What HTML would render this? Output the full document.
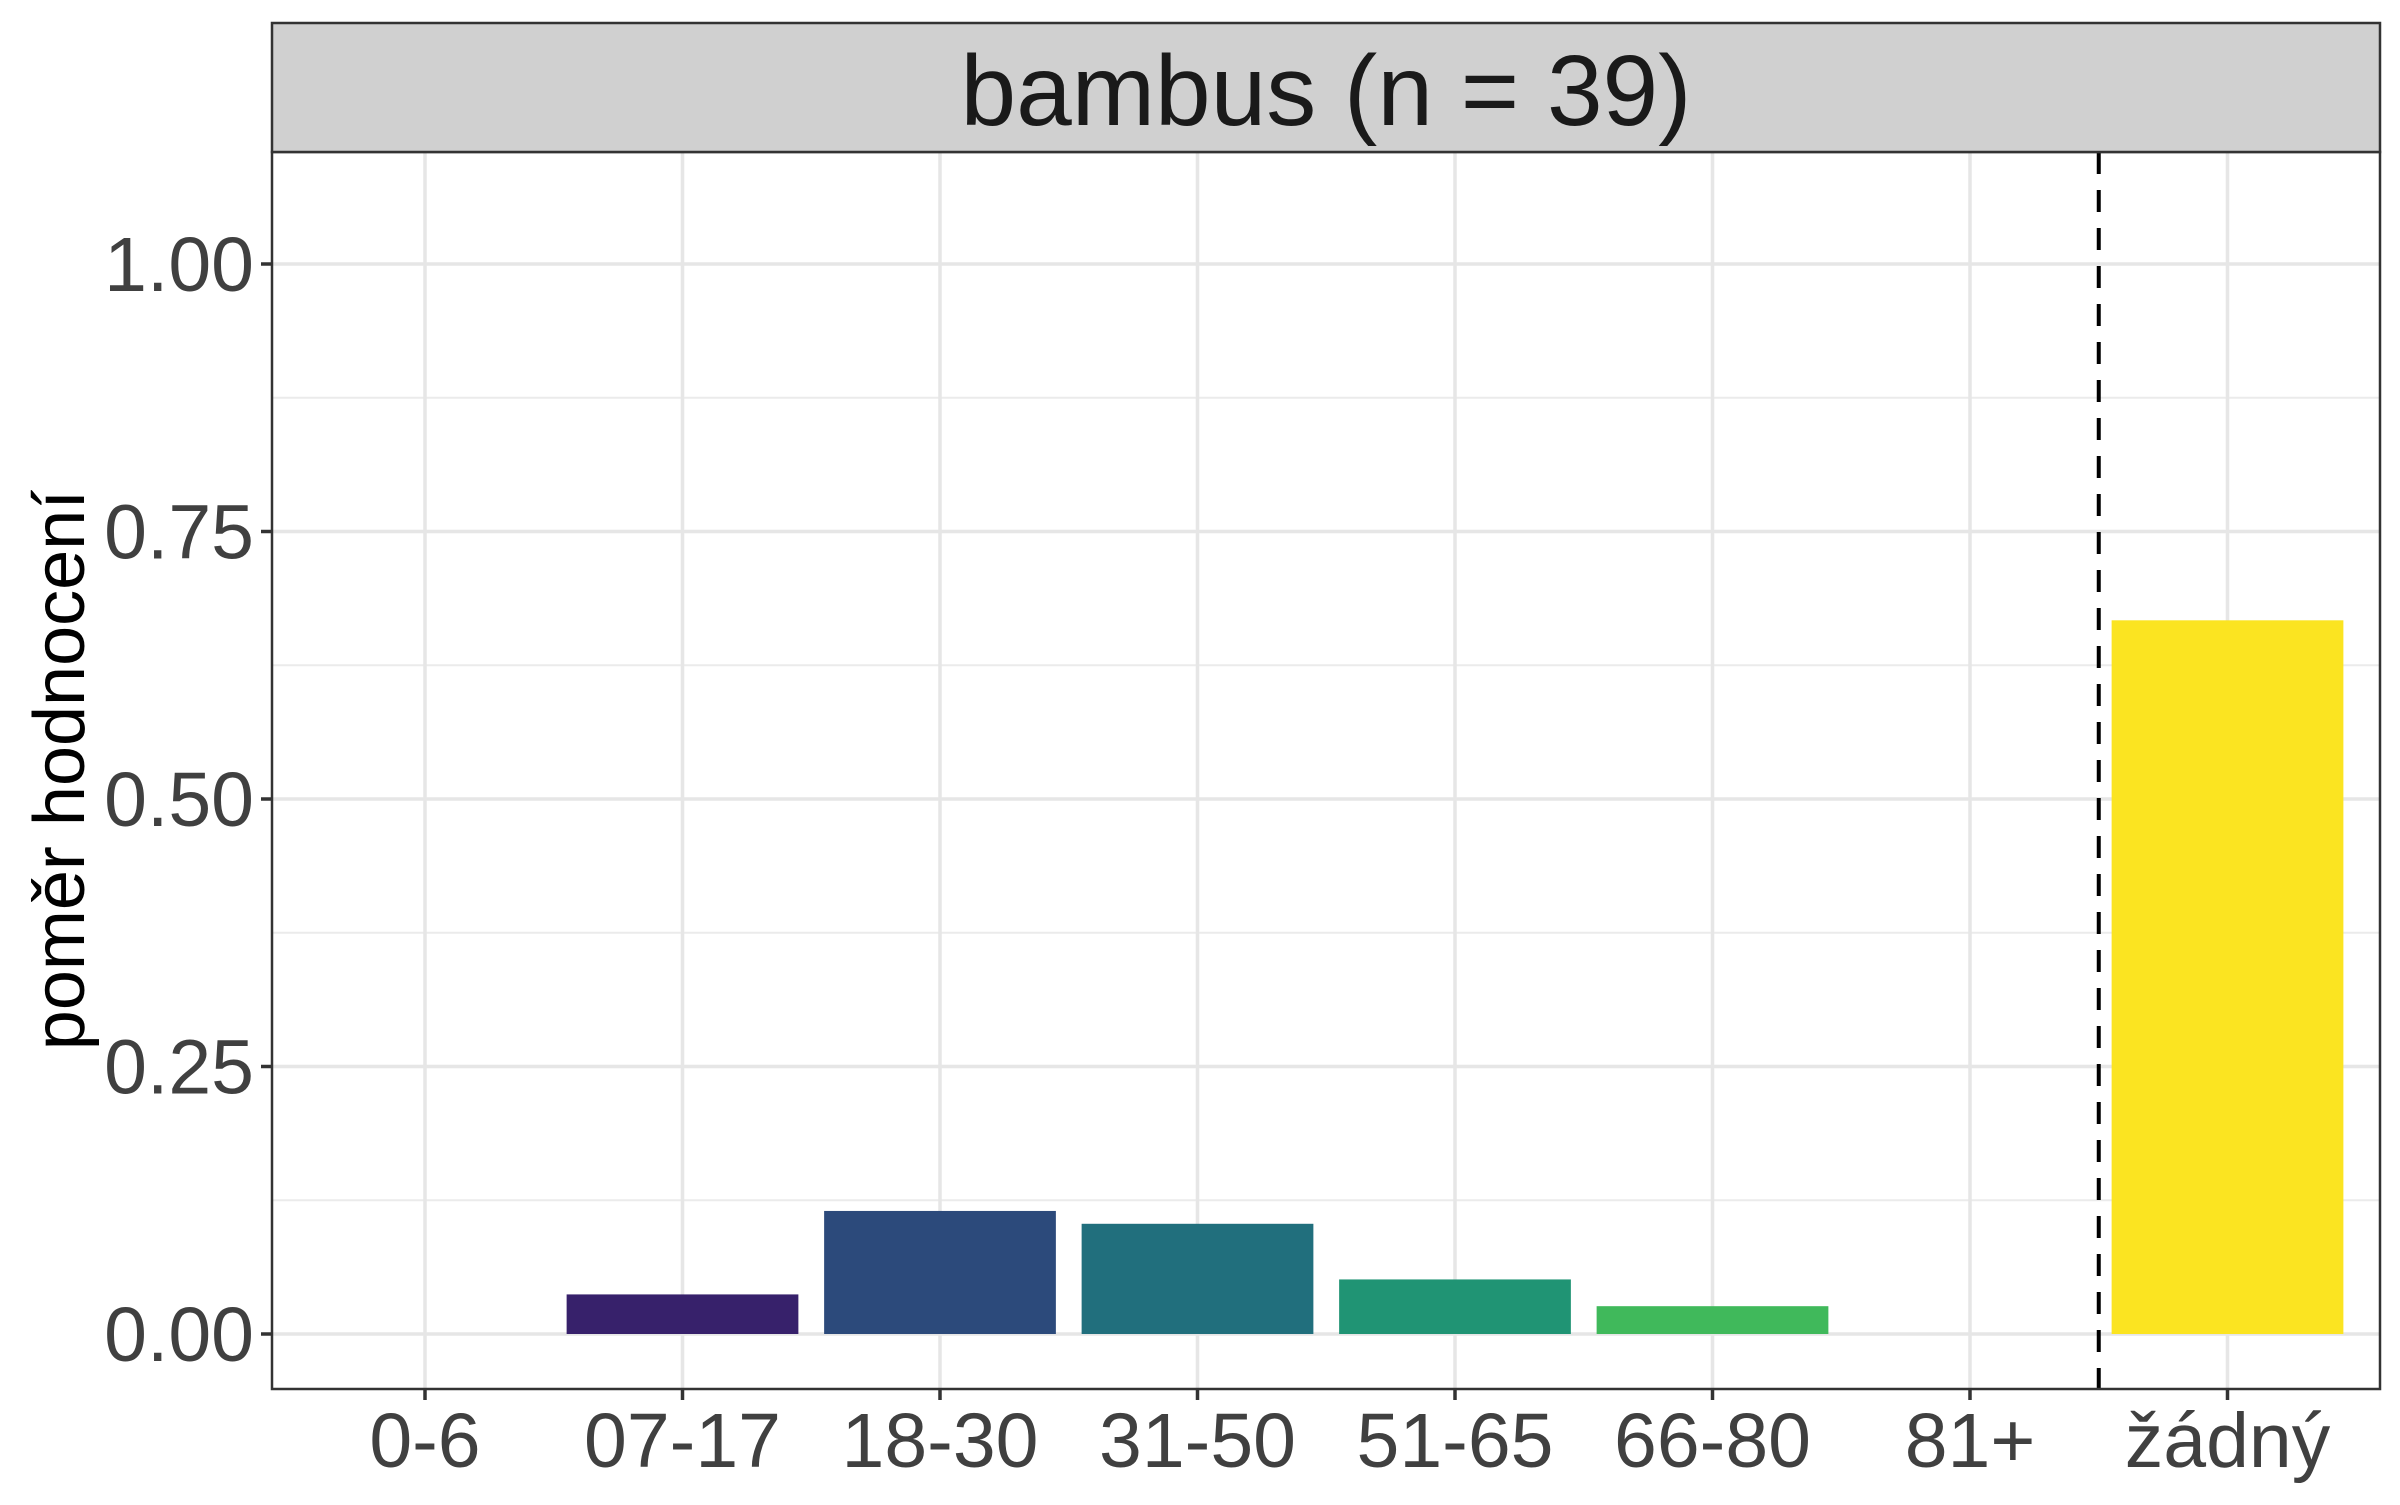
<!DOCTYPE html>
<html><head><meta charset="utf-8"><style>
html,body{margin:0;padding:0;background:#fff;}
svg text{font-family:"Liberation Sans",sans-serif;}
</style></head><body>
<svg id="chart" width="2400" height="1500" xmlns="http://www.w3.org/2000/svg">
<g id="grid"></g>
<g id="bars"></g>
<g id="axes"></g>
<rect x="272" y="152" width="2108" height="1237" fill="none" stroke="#333" stroke-width="2.5"/>
<rect x="272" y="23" width="2108" height="129" fill="#d0d0d0" stroke="#333" stroke-width="2.5"/>
<text x="1326" y="125" font-size="100" text-anchor="middle" fill="#1a1a1a">bambus (n = 39)</text>
<text transform="translate(84,770) rotate(-90)" font-size="72" text-anchor="middle" fill="#000">poměr hodnocení</text>
</svg>
<script>
const categories = ["0-6","07-17","18-30","31-50","51-65","66-80","81+","žádný"];
const values = [0, 0.037, 0.115, 0.103, 0.051, 0.026, 0, 0.667];
const colors = ["#440154","#37216b","#2c4a7b","#216f7d","#209474","#40b95b","#9fda3a","#fbe421"];
const yTicks = [0, 0.25, 0.5, 0.75, 1.0];
const yTickLabels = ["0.00","0.25","0.50","0.75","1.00"];
const dividerAt = 6.5;

const NS = "http://www.w3.org/2000/svg";
const x0 = 425, step = 257.5;
const xScale = i => x0 + i * step;
const y0 = 1334, yUnit = 1070;
const yScale = v => y0 - v * yUnit;
const L = 272, R = 2380, T = 152, B = 1389;
function mk(tag, attrs, parent){ const e=document.createElementNS(NS,tag); for(const k in attrs) e.setAttribute(k,attrs[k]); parent.appendChild(e); return e; }
const grid=document.getElementById('grid'), bars=document.getElementById('bars'), axes=document.getElementById('axes');

for(let i=0;i<yTicks.length-1;i++){
  const m=(yTicks[i]+yTicks[i+1])/2;
  const l=mk('line',{x1:L,x2:R,y1:yScale(m),y2:yScale(m),stroke:'#ebebeb','stroke-width':2},grid);
  
  
}
yTicks.forEach((t,i)=>{
  const y=yScale(t);
  const l=mk('line',{x1:L,x2:R,y1:y,y2:y,stroke:'#e6e6e6','stroke-width':3.5},grid);
  
  
  const tk=mk('line',{x1:L-11,x2:L,y1:y,y2:y,stroke:'#333','stroke-width':3.5},axes);
  
  
  const tx=mk('text',{x:L-18,y:y+27,'font-size':77,'text-anchor':'end',fill:'#404040'},axes);
  tx.textContent=yTickLabels[i];
  
  
});
categories.forEach((c,i)=>{
  const x=xScale(i);
  const l=mk('line',{x1:x,x2:x,y1:T,y2:B,stroke:'#e6e6e6','stroke-width':3.5},grid);
  
  
  const tk=mk('line',{x1:x,x2:x,y1:B,y2:B+11,stroke:'#333','stroke-width':3.5},axes);
  
  
  const tx=mk('text',{x:x,y:1467,'font-size':77,'text-anchor':'middle',fill:'#404040'},axes);
  tx.textContent=c;
  
  
  const v=values[i];
  if(v>0){
    const bw=step*0.9;
    const r=mk('rect',{x:x-bw/2,y:yScale(v),width:bw,height:y0-yScale(v),fill:colors[i]},bars);
    
    
  }
});
const dx=x0+dividerAt*step;
const dl=mk('line',{x1:dx,x2:dx,y1:T,y2:B,stroke:'#000','stroke-width':4,'stroke-dasharray':'22,16'},axes);


</script>
</body></html>
